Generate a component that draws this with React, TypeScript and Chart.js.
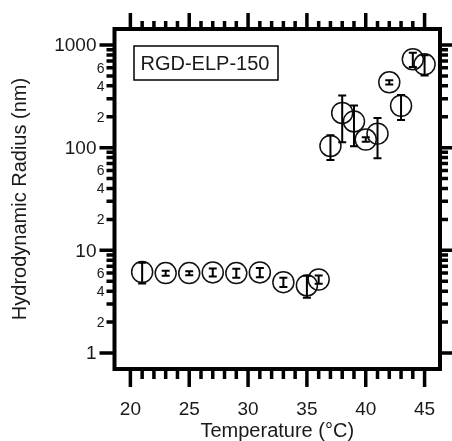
import { useEffect, useRef } from "react";
import { Chart, registerables } from "chart.js";

Chart.register(...registerables);

// ---- data ----
const temperatures = [21, 23, 25, 27, 29, 31, 33, 35, 36, 37, 38, 39, 40, 41, 42, 43, 44, 45];
const radii = [6.15, 6.0, 6.0, 6.1, 6.0, 6.1, 4.9, 4.55, 5.2, 104, 218, 180, 120, 137, 433, 256, 727, 649];
const radiusErrors = [1.4, 0.33, 0.27, 0.55, 0.6, 0.62, 0.5, 1.1, 0.48, 28, 105, 77, 6, 58, 21, 70, 115, 145];

const xMajorTicks = [20, 25, 30, 35, 40, 45];
const xMinorTicks = [21, 22, 23, 24, 26, 27, 28, 29, 31, 32, 33, 34, 36, 37, 38, 39, 41, 42, 43, 44];
const yMajorTicks = [1, 10, 100, 1000];
const yMajorLabels = ["1", "10", "100", "1000"];
const yMinorTicks = [2, 3, 4, 5, 6, 7, 8, 9, 20, 30, 40, 50, 60, 70, 80, 90, 200, 300, 400, 500, 600, 700, 800, 900];
const yMinorLabelled = [2, 4, 6, 20, 40, 60, 200, 400, 600];
const yMinorLabels = ["2", "4", "6", "2", "4", "6", "2", "4", "6"];

const xTitle = "Temperature (°C)";
const yTitle = "Hydrodynamic Radius (nm)";
const legendLabel = "RGD-ELP-150";

const FONT = "'Liberation Sans', Arial, Helvetica, sans-serif";
const TEXT = "#1a1a1a";

const axesPlugin = {
  id: "axesFrame",
  afterDatasetsDraw(chart: any) {
    const { ctx, chartArea: a, scales } = chart;
    const x = scales.x;
    const y = scales.y;
    ctx.save();
    ctx.strokeStyle = "#000";
    ctx.fillStyle = TEXT;

    // error bars
    ctx.lineWidth = 2;
    ctx.lineCap = "butt";
    temperatures.forEach((t, i) => {
      const px = x.getPixelForValue(t);
      const top = y.getPixelForValue(radii[i] + radiusErrors[i]);
      const bot = y.getPixelForValue(Math.max(radii[i] - radiusErrors[i], 0.01));
      ctx.beginPath();
      ctx.moveTo(px, top);
      ctx.lineTo(px, bot);
      ctx.moveTo(px - 4, top);
      ctx.lineTo(px + 4, top);
      ctx.moveTo(px - 4, bot);
      ctx.lineTo(px + 4, bot);
      ctx.stroke();
    });

    // ticks
    ctx.lineWidth = 3.5;
    const drawX = (vals: number[], lenBottom: number, lenTop: number) => {
      vals.forEach((v) => {
        const px = x.getPixelForValue(v);
        ctx.beginPath();
        ctx.moveTo(px, a.bottom);
        ctx.lineTo(px, a.bottom + lenBottom);
        ctx.moveTo(px, a.top);
        ctx.lineTo(px, a.top - lenTop);
        ctx.stroke();
      });
    };
    drawX(xMajorTicks, 18, 16);
    drawX(xMinorTicks, 10, 8);
    const drawY = (vals: number[], len: number) => {
      vals.forEach((v) => {
        const py = y.getPixelForValue(v);
        ctx.beginPath();
        ctx.moveTo(a.left, py);
        ctx.lineTo(a.left - len, py);
        ctx.moveTo(a.right, py);
        ctx.lineTo(a.right + len, py);
        ctx.stroke();
      });
    };
    drawY(yMajorTicks, 15);
    drawY(yMinorTicks, 8);

    // frame
    ctx.lineWidth = 4;
    ctx.strokeRect(a.left, a.top, a.right - a.left, a.bottom - a.top);

    // tick labels
    ctx.font = `19px ${FONT}`;
    ctx.textAlign = "center";
    ctx.textBaseline = "alphabetic";
    xMajorTicks.forEach((v) => {
      ctx.fillText(String(v), x.getPixelForValue(v), 415);
    });
    ctx.textAlign = "right";
    ctx.textBaseline = "middle";
    yMajorTicks.forEach((v, i) => {
      ctx.fillText(yMajorLabels[i], a.left - 18, y.getPixelForValue(v) + 1);
    });
    ctx.font = `14px ${FONT}`;
    yMinorLabelled.forEach((v, i) => {
      ctx.fillText(yMinorLabels[i], a.left - 10, y.getPixelForValue(v) + 1);
    });

    // axis titles
    ctx.font = `20px ${FONT}`;
    ctx.textAlign = "center";
    ctx.textBaseline = "alphabetic";
    ctx.fillText(xTitle, (a.left + a.right) / 2, 437);
    ctx.save();
    ctx.translate(26, (a.top + a.bottom) / 2);
    ctx.rotate(-Math.PI / 2);
    ctx.fillText(yTitle, 0, 0);
    ctx.restore();

    // legend box
    ctx.lineWidth = 1.5;
    ctx.strokeRect(134, 46, 144, 34);
    ctx.font = `20px ${FONT}`;
    ctx.textAlign = "left";
    ctx.textBaseline = "middle";
    ctx.fillText(legendLabel, 140.5, 64);

    ctx.restore();
  },
};

export default function App() {
  const canvasRef = useRef<HTMLCanvasElement | null>(null);

  useEffect(() => {
    const canvas = canvasRef.current;
    if (!canvas) return;
    const chart = new Chart(canvas, {
      type: "scatter",
      data: {
        datasets: [
          {
            label: legendLabel,
            data: temperatures.map((t, i) => ({ x: t, y: radii[i] })),
            pointStyle: "circle",
            pointRadius: 10.5,
            pointHoverRadius: 10.5,
            borderWidth: 1.5,
            borderColor: "#111",
            backgroundColor: "rgba(0,0,0,0)",
          },
        ],
      },
      options: {
        responsive: false,
        animation: false,
        devicePixelRatio: 1,
        layout: { padding: { left: 114.5, top: 29, right: 10, bottom: 72 } },
        plugins: {
          legend: { display: false },
          tooltip: { enabled: false },
        },
        scales: {
          x: { type: "linear", display: false, min: 18.65, max: 46.31 },
          y: { type: "logarithmic", display: false, min: 0.6985, max: 1432 },
        },
      },
      plugins: [axesPlugin],
    });
    return () => chart.destroy();
  }, []);

  return (
    <div style={{ position: "fixed", left: 0, top: 0, width: 452, height: 441, background: "#fff" }}>
      <canvas ref={canvasRef} width={452} height={441} style={{ display: "block" }} />
    </div>
  );
}
